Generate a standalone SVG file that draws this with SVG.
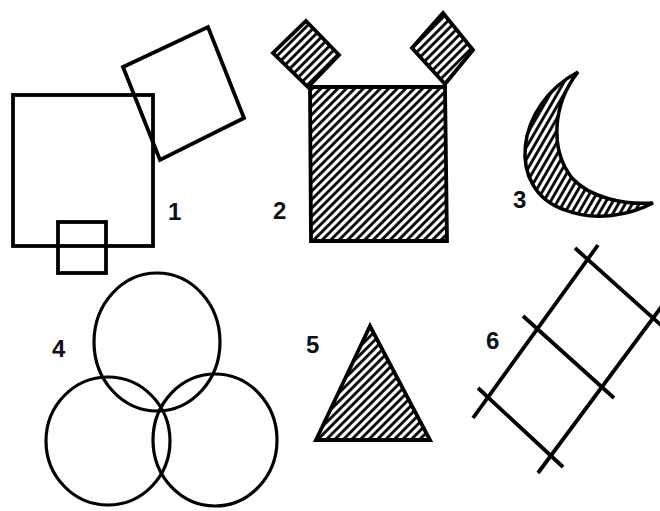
<svg xmlns="http://www.w3.org/2000/svg" width="660" height="511" viewBox="0 0 660 511">
<style>
.s{fill:none;stroke:#000;stroke-width:3.8;stroke-linejoin:miter}
.h{fill:url(#hatch);stroke:#000;stroke-width:3.8}
.hc{fill:url(#hatchC);stroke:#000;stroke-width:3.5}
.c{fill:none;stroke:#000;stroke-width:3.2}
.lbl{font-family:"Liberation Sans",Arial,sans-serif;font-weight:bold;font-size:24px;fill:#111}
</style>
<defs>
<pattern id="hatch" patternUnits="userSpaceOnUse" width="6" height="6" patternTransform="rotate(45)">
<rect width="6" height="6" fill="#fff"/>
<line x1="1.5" y1="0" x2="1.5" y2="6" stroke="#000" stroke-width="2.8"/>
</pattern>
<pattern id="hatchC" patternUnits="userSpaceOnUse" width="6" height="6" patternTransform="rotate(30)">
<rect width="6" height="6" fill="#fff"/>
<line x1="1.5" y1="0" x2="1.5" y2="6" stroke="#000" stroke-width="2.8"/>
</pattern>
</defs>
<rect width="660" height="511" fill="#fff"/>

<g id="fig1">
<rect class="s" x="13" y="95" width="140" height="151"/>
<polygon class="s" points="123,67 208,27 244,118 160,160"/>
<rect class="s" x="58" y="222" width="48" height="51"/>
<text class="lbl" x="168" y="220">1</text>
</g>

<g id="fig2">
<polygon class="h" points="306,21 339,55 308,87 273,53"/>
<polygon class="h" points="443,13 473,50 445,84 412,48"/>
<polygon class="h" points="310,87 445,87 447,241 311,241"/>
<text class="lbl" x="273" y="219">2</text>
</g>

<g id="fig3">
<path class="hc" d="M578,72 C515,105 505,190 565,210 C595,222 630,215 653,203 C625,205 590,198 572,178 C550,150 552,105 578,72 Z"/>
<text class="lbl" x="513" y="208">3</text>
</g>

<g id="fig4">
<ellipse class="c" cx="157" cy="342" rx="63" ry="69"/>
<ellipse class="c" cx="108" cy="441" rx="62" ry="64"/>
<ellipse class="c" cx="215" cy="440" rx="62" ry="66"/>
<text class="lbl" x="52" y="357">4</text>
</g>

<g id="fig5">
<polygon class="h" points="370,326 316,440 430,440"/>
<text class="lbl" x="306" y="353">5</text>
</g>

<g id="fig6">
<line class="s" x1="575" y1="248" x2="662" y2="326"/>
<line class="s" x1="523" y1="316" x2="614" y2="398"/>
<line class="s" x1="478" y1="388" x2="563" y2="467"/>
<line class="s" x1="598" y1="245" x2="473" y2="418"/>
<line class="s" x1="662" y1="306" x2="538" y2="473"/>
<text class="lbl" x="486" y="349">6</text>
</g>
</svg>
